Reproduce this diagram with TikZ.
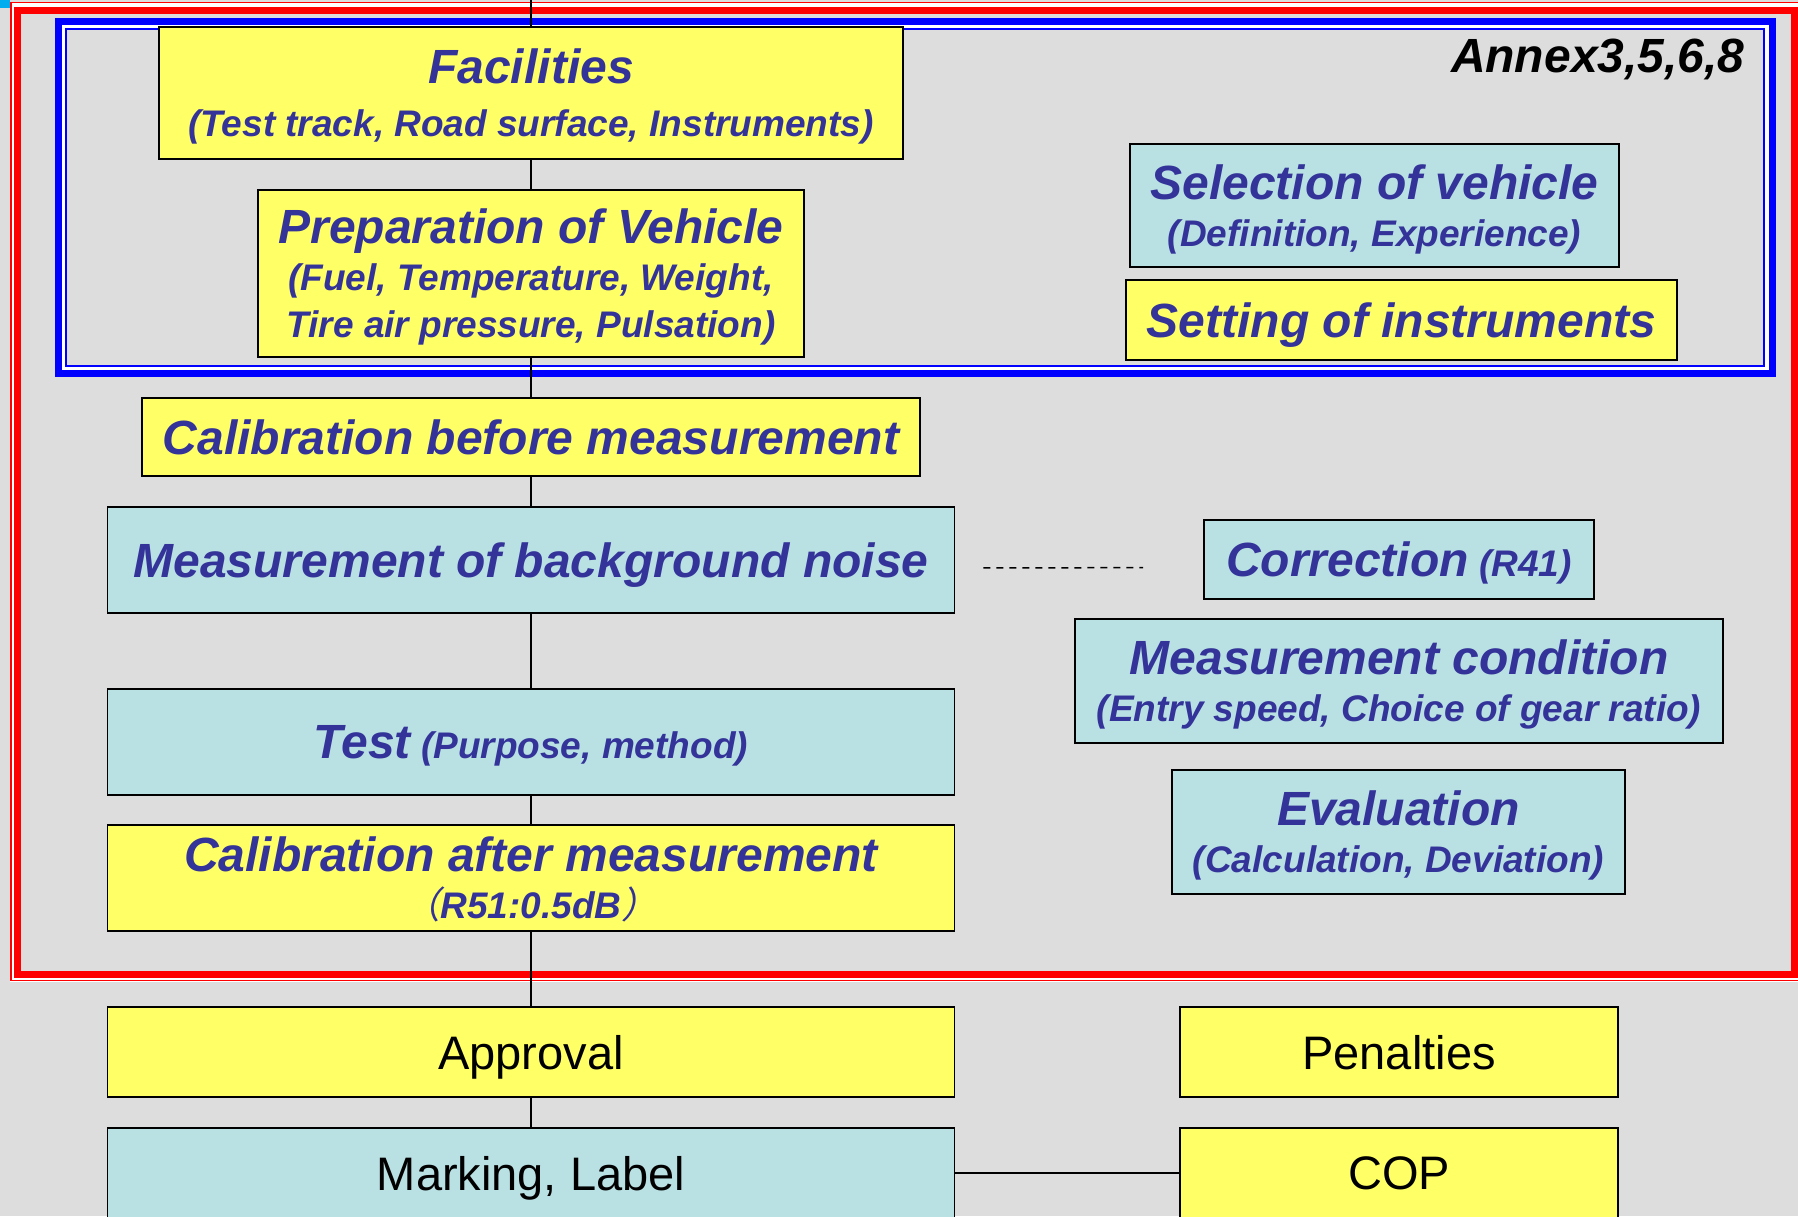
\documentclass[tikz,border=0pt]{standalone}
\usepackage{fontspec}
\setmainfont{Liberation Sans}
\newfontfamily\cjkparen[FakeSlant=0.2]{Noto Sans CJK JP}
\usetikzlibrary{positioning}
\definecolor{bggrey}{HTML}{DDDDDD}
\definecolor{boxyellow}{HTML}{FFFF66}
\definecolor{boxblue}{HTML}{B9E0E3}
\definecolor{txtblue}{HTML}{333399}
\newcommand{\headtxt}[1]{{\fontsize{48}{47}\selectfont #1}}
\newcommand{\fwparen}[1]{{\normalfont\cjkparen #1}}

\begin{document}
\begin{tikzpicture}[
            x=1pt, y=-1pt,
            box/.style={draw, line width=1.8pt, inner sep=0pt, align=center, text=txtblue, text depth=0pt,
                font=\bfseries\itshape\fontsize{37}{47}\selectfont},
            ybox/.style={box, fill=boxyellow},
            bbox/.style={box, fill=boxblue},
            plainbox/.style={draw, line width=1.8pt, inner sep=0pt, text=black, text depth=0pt,
                font=\fontsize{47}{47}\selectfont},
            line/.style={line width=1.5pt},
            dashline/.style={line width=1.5pt, dash pattern=on 7pt off 6pt}
        ]
            \useasboundingbox (0,0) rectangle (1798,1216);
            \clip (0,0) rectangle (1798,1216);
            \fill[bggrey] (0,0) rectangle (1798,1216);
            \fill[cyan] (0,0) rectangle (10,8);

            % red frame
            \draw[white, line width=9pt] (14,6.5) rectangle (1800,977);
            \draw[red, line width=1.5pt] (11,2.5) rectangle (1805,980.5);
            \draw[red, line width=7pt] (17,10.5) rectangle (1794,974);
            % blue frame
            \draw[white, line width=9pt] (61.75,25) rectangle (1768,369.5);
            \draw[blue, line width=7pt] (58,21) rectangle (1772.5,373);
            \draw[blue, line width=2pt] (65.5,29) rectangle (1763.5,366);

            \node[anchor=base east, font=\bfseries\itshape\fontsize{48}{48}\selectfont] (annex) at (1748,72) {Annex3,5,6,8};

            % left column
            \coordinate (top) at (531,0);
            \node[ybox, minimum width=744pt, minimum height=132pt] (fac) at (531,93)
                {\headtxt{Facilities}\\[6pt](Test track, Road surface, Instruments)};
            \node[ybox, minimum width=546pt, minimum height=167pt] (prep) at (531,273.5)
                {\headtxt{Preparation of Vehicle}\\(Fuel, Temperature, Weight,\\Tire air pressure, Pulsation)};
            \node[ybox, minimum width=778pt, minimum height=78pt] (calb) at (531,437)
                {\headtxt{Calibration before measurement}};
            \node[bbox, minimum width=847pt, minimum height=106pt] (bg) at (531,560)
                {\headtxt{Measurement of background noise}};
            \node[bbox, minimum width=847pt, minimum height=106pt] (test) at (531,742)
                {\headtxt{Test} (Purpose, method)};
            \node[ybox, minimum width=847pt, minimum height=106pt] (cala) at (531,878)
                {\headtxt{Calibration after measurement}\\\fwparen{（}R51:0.5dB\fwparen{）}};
            \node[ybox, plainbox, minimum width=847pt, minimum height=90pt] (appr) at (531,1052) {Approval};
            \node[bbox, plainbox, minimum width=847pt, minimum height=90pt] (mark) at (531,1173) {Marking, Label};

            % right column
            \node[bbox, minimum width=489pt, minimum height=123pt] (sel) at (1374.5,205.5)
                {\headtxt{Selection of vehicle}\\(Definition, Experience)};
            \node[ybox, minimum width=551pt, minimum height=80pt] (set) at (1401.5,320)
                {\headtxt{Setting of instruments}};
            \node[bbox, minimum width=390pt, minimum height=79pt] (corr) at (1399,559.5)
                {\headtxt{Correction} (R41)};
            \node[bbox, minimum width=648pt, minimum height=124pt] (cond) at (1399,681)
                {\headtxt{Measurement condition}\\(Entry speed, Choice of gear ratio)};
            \node[bbox, minimum width=453pt, minimum height=124pt] (eval) at (1398.5,832)
                {\headtxt{Evaluation}\\(Calculation, Deviation)};
            \node[ybox, plainbox, minimum width=438pt, minimum height=90pt] (pen) at (1399,1052) {Penalties};
            \node[ybox, plainbox, minimum width=438pt, minimum height=90pt] (cop) at (1399,1173) {COP};

            % connectors
            \draw[line] (top) -- (fac.north);
            \draw[line] (fac) -- (prep);
            \draw[line] (prep) -- (calb);
            \draw[line] (calb) -- (bg);
            \draw[line] (bg) -- (test);
            \draw[line] (test) -- (cala);
            \draw[line] (cala) -- (appr);
            \draw[line] (appr) -- (mark);
            \draw[line] (mark) -- (cop);
            \draw[dashline, shorten <=28pt, shorten >=60pt] ([yshift=-8pt]bg.east) -- ([yshift=-8pt]corr.west);
        \end{tikzpicture}
\end{document}
